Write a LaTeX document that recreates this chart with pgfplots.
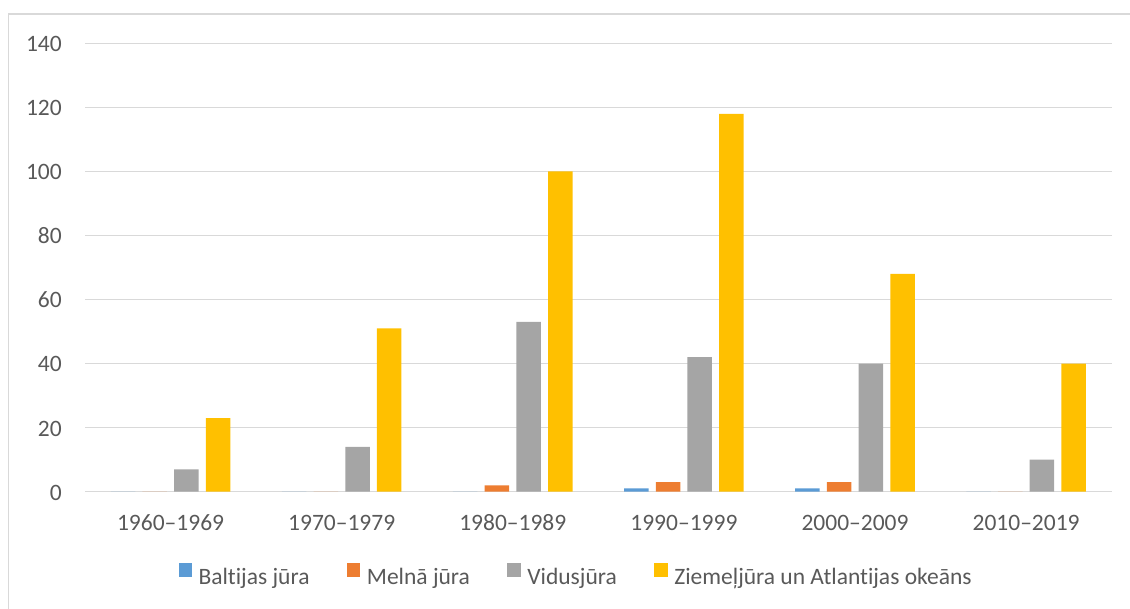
\documentclass[border=0pt]{standalone}
\usepackage{pgfplots}
\pgfplotsset{compat=1.18}
\usepackage{fontspec}
\setmainfont{Carlito}[Ligatures={NoCommon}]
\definecolor{txt}{HTML}{595959}
\definecolor{gridc}{HTML}{D9D9D9}
\definecolor{cBal}{HTML}{5B9BD5}
\definecolor{cMel}{HTML}{ED7D31}
\definecolor{cVid}{HTML}{A5A5A5}
\definecolor{cZie}{HTML}{FFC000}
\begin{document}
\begin{tikzpicture}[x=1pt,y=1pt]
\useasboundingbox (0,0) rectangle (1130,608);
\draw[gridc, line width=1.3pt] (8.7,-2) -- (8.7,594) -- (1140,594);
\begin{axis}[
  at={(85pt,116.3pt)}, anchor=south west,
  scale only axis, width=1026.7pt, height=448.4pt,
  xmin=-0.5, xmax=5.5, ymin=0, ymax=140,
  ytick={0,20,...,140},
  xtick={0,...,5},
  xticklabels={1960–1969,1970–1979,1980–1989,1990–1999,2000–2009,2010–2019},
  major tick length=0pt,
  axis line style={draw=none},
  ymajorgrids, major grid style={gridc, line width=1.3pt},
  font=\fontsize{23.5}{28}\selectfont,
  tick label style={text=txt},
  /pgf/number format/assume math mode=true,
  yticklabel style={anchor=base east, inner sep=0pt, xshift=-23pt, yshift=-8.4pt},
  xticklabel style={anchor=base, inner sep=0pt, yshift=-38.3pt},
  ybar=7.2pt, bar width=24.5pt,
  legend columns=4,
  legend style={draw=none, fill=none, inner sep=0pt, column sep=6.6pt,
    at={(axis description cs:0.0909,-0.1590)}, anchor=north west,
    nodes={inner sep=0pt, text=txt},
    /tikz/every even column/.append style={column sep=37.4pt}},
  legend image code/.code={\fill[#1] (0pt,0pt) rectangle (13.4pt,14pt);},
]
\addplot[fill=cBal, draw=none] coordinates {(0,0) (1,0) (2,0) (3,1) (4,1) (5,0)};
\addplot[fill=cMel, draw=none] coordinates {(0,0) (1,0) (2,2) (3,3) (4,3) (5,0)};
\addplot[fill=cVid, draw=none] coordinates {(0,7) (1,14) (2,53) (3,42) (4,40) (5,10)};
\addplot[fill=cZie, draw=none] coordinates {(0,23) (1,51) (2,100) (3,118) (4,68) (5,40)};
\legend{Baltijas jūra, Melnā jūra, Vidusjūra, Ziemeļjūra un Atlantijas okeāns}
\end{axis}
\end{tikzpicture}
\end{document}
